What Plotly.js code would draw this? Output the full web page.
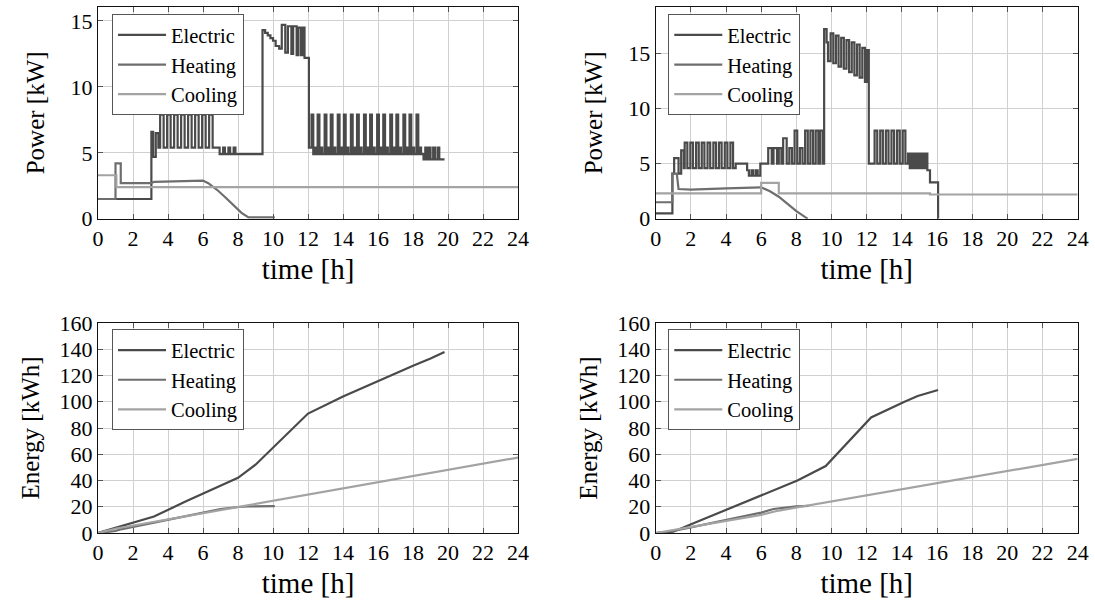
<!DOCTYPE html>
<html>
<head>
<meta charset="utf-8">
<script src="https://cdn.plot.ly/plotly-3.0.1.min.js"></script>
<style>html,body{margin:0;padding:0;background:#fff;}#chart{width:1095px;height:612px;}</style>
</head>
<body>
<div id="chart"></div>
<script>
// ---------- Scenario 1 (left) : power [kW] ----------
const s1ElecT = [0, 3.05, 3.15, 3.3, 3.45,
  3.55, 3.75, 3.95, 4.15, 4.35, 4.55, 4.75, 4.95, 5.15, 5.35, 5.55, 5.75, 5.95, 6.15, 6.35, 6.55,
  6.95, 7.15, 7.25, 7.45, 7.55, 7.75, 7.85,
  9.4, 9.55, 9.7, 9.85, 10.0, 10.15, 10.35, 10.5, 10.7, 10.85, 11.05, 11.15, 11.35, 11.45, 11.6, 11.7, 11.8,
  12.05,
  12.2, 12.3, 12.38, 12.46, 12.55, 12.65, 12.73, 12.81, 12.95, 13.05, 13.13, 13.21,
  13.3, 13.4, 13.48, 13.56, 13.7, 13.8, 13.88, 13.96, 14.05, 14.15, 14.23, 14.31,
  14.45, 14.55, 14.63, 14.71, 14.8, 14.9, 14.98, 15.06, 15.2, 15.3, 15.38, 15.46,
  15.55, 15.65, 15.73, 15.81, 15.95, 16.05, 16.13, 16.21, 16.3, 16.4, 16.48, 16.56,
  16.7, 16.8, 16.88, 16.96, 17.05, 17.15, 17.23, 17.31, 17.45, 17.55, 17.63, 17.71,
  17.8, 17.9, 17.98, 18.06, 18.2, 18.3, 18.38, 18.46,
  18.6, 18.7, 18.8, 18.9, 19.0, 19.15, 19.25, 19.4, 19.5, 19.8];
const s1ElecP = [1.5, 6.6, 4.7, 6.5, 5.4,
  7.9, 5.4, 7.9, 5.4, 7.9, 5.4, 7.9, 5.4, 7.9, 5.4, 7.9, 5.4, 7.9, 5.4, 7.9, 5.4,
  4.9, 5.4, 4.9, 5.4, 4.9, 5.4, 4.9,
  14.3, 14.1, 13.9, 13.7, 13.5, 13.1, 12.9, 14.7, 12.6, 14.6, 12.5, 14.6, 12.4, 14.5, 12.4, 14.5, 12.2,
  5.4,
  7.9, 4.9, 5.4, 4.9, 7.9, 4.9, 5.4, 4.9, 7.9, 4.9, 5.4, 4.9,
  7.9, 4.9, 5.4, 4.9, 7.9, 4.9, 5.4, 4.9, 7.9, 4.9, 5.4, 4.9,
  7.9, 4.9, 5.4, 4.9, 7.9, 4.9, 5.4, 4.9, 7.9, 4.9, 5.4, 4.9,
  7.9, 4.9, 5.4, 4.9, 7.9, 4.9, 5.4, 4.9, 7.9, 4.9, 5.4, 4.9,
  7.9, 4.9, 5.4, 4.9, 7.9, 4.9, 5.4, 4.9, 7.9, 4.9, 5.4, 4.9,
  7.9, 4.9, 5.4, 4.9, 7.9, 4.9, 5.4, 4.9,
  4.5, 5.4, 4.5, 5.4, 4.5, 5.4, 4.5, 5.4, 4.5, 4.5];
const s1HeatT = [0, 1.0, 1.0, 1.3, 1.3, 3.0, 3.2, 4.5, 6.0, 6.3, 6.8, 7.3, 7.8, 8.2, 8.6, 10.1];
const s1HeatP = [1.5, 1.5, 4.2, 4.2, 2.7, 2.7, 2.8, 2.85, 2.9, 2.7, 2.2, 1.6, 0.95, 0.45, 0.1, 0.1];
const s1CoolT = [0, 1.05, 24];
const s1CoolP = [3.3, 2.4, 2.4];

// ---------- Scenario 2 (right) : power [kW] ----------
const s2ElecT = [0, 0.95, 1.05, 1.3, 1.45, 1.6,
  1.65, 1.8, 1.97, 2.12, 2.3, 2.45, 2.62, 2.77, 2.95, 3.1, 3.28, 3.43, 3.6, 3.75, 3.93, 4.08, 4.25, 4.4,
  4.55, 5.2, 5.3, 5.45, 5.55, 5.7, 5.8, 5.95,
  6.4, 6.6, 6.7, 6.9, 7.0, 7.15,
  7.25, 7.45, 7.6, 7.75, 7.9, 8.05, 8.2, 8.35, 8.5, 8.65, 8.8, 8.95, 9.1, 9.25, 9.35, 9.5,
  9.58, 9.72, 9.8, 9.95, 10.1, 10.25, 10.4, 10.55, 10.7, 10.85, 11.0, 11.15, 11.3, 11.45, 11.6, 11.75, 11.9, 12.0,
  12.12, 12.45, 12.6, 12.77, 12.92, 13.09, 13.24, 13.41, 13.56, 13.73, 13.88, 14.05, 14.2,
  14.35, 14.45, 14.55, 14.65, 14.75, 14.85, 14.95, 15.05, 15.15, 15.25, 15.35, 15.45, 15.6, 16.06];
const s2ElecP = [0.5, 4.1, 5.5, 4.1, 6.2, 4.6,
  6.9, 4.6, 6.9, 4.6, 6.9, 4.6, 6.9, 4.6, 6.9, 4.6, 6.9, 4.6, 6.9, 4.6, 6.9, 4.6, 6.9, 4.6,
  5.0, 4.4, 3.9, 4.4, 3.9, 4.4, 3.9, 5.0,
  6.4, 5.0, 6.4, 5.0, 6.4, 5.0,
  7.3, 5.0, 6.4, 5.0, 8.0, 5.0, 6.4, 5.0, 8.0, 5.0, 8.0, 5.0, 8.0, 5.0, 8.0, 5.0,
  17.2, 16.0, 14.3, 16.8, 14.1, 16.6, 13.8, 16.4, 13.6, 16.2, 13.3, 16.0, 13.0, 15.8, 12.8, 15.5, 12.4, 15.3,
  5.0, 8.0, 5.0, 8.0, 5.0, 8.0, 5.0, 8.0, 5.0, 8.0, 5.0, 8.0, 5.0,
  5.9, 4.6, 5.9, 4.6, 5.9, 4.6, 5.9, 4.6, 5.9, 4.6, 5.9, 4.4, 3.3, 0];
const s2HeatT = [0, 0.95, 0.95, 1.2, 1.3, 2.0, 4.0, 6.0, 6.5, 7.0, 7.5, 8.0, 8.65];
const s2HeatP = [1.5, 1.5, 4.1, 4.1, 2.7, 2.65, 2.75, 2.85, 2.5, 2.0, 1.35, 0.7, 0.0];
const s2CoolT = [0, 6.0, 7.0, 15.6, 24];
const s2CoolP = [2.3, 3.25, 2.3, 2.2, 2.2];

// ---------- Scenario 1 (left) : energy [kWh] ----------
const e1ElecT = [0, 1, 3.2, 5, 8, 9, 10, 11, 12, 14, 16, 18, 19, 19.8];
const e1ElecE = [0, 4, 12.5, 24, 42, 52, 65, 78, 91, 104, 116, 127.5, 133, 138];
const e1HeatT = [0, 1, 1.3, 3, 6, 7, 8, 8.6, 10.1];
const e1HeatE = [0, 1.5, 2.8, 7.4, 15.7, 18.2, 19.8, 20.2, 20.5];
const e1CoolT = [0, 1.05, 24];
const e1CoolE = [0, 3.4, 57.5];

// ---------- Scenario 2 (right) : energy [kWh] ----------
const e2ElecT = [0, 1, 2.15, 4.06, 6.06, 8.06, 9.67, 12.25, 14.15, 14.9, 16.06];
const e2ElecE = [0, 1, 7.4, 18, 29.5, 40, 51, 88, 100, 104.4, 109];
const e2HeatT = [0, 1, 2, 4, 6, 6.7, 8, 8.7];
const e2HeatE = [0, 1.5, 4.3, 9.8, 15.5, 18.3, 20.3, 20.6];
const e2CoolT = [0, 6, 7, 15.6, 24];
const e2CoolE = [0, 13.8, 17.1, 36.8, 56.5];

const seriesNames = ['Electric', 'Heating', 'Cooling'];
const timeTicks = [0, 2, 4, 6, 8, 10, 12, 14, 16, 18, 20, 22, 24];
const powerTicks = [0, 5, 10, 15];
const energyTicks = [0, 20, 40, 60, 80, 100, 120, 140, 160];

const colElec = '#4a4a4a', colHeat = '#6e6e6e', colCool = '#a3a3a3';
const LW = 2.2;
const FONT = '"Liberation Serif", "DejaVu Serif", serif';

function tr(x, y, name, color, shape, xa, ya, lg) {
  return {x: x, y: y, name: name, type: 'scatter', mode: 'lines',
    line: {color: color, width: LW, shape: shape},
    xaxis: xa, yaxis: ya, legend: lg, showlegend: true, hoverinfo: 'skip'};
}

const data = [
  tr(s1ElecT, s1ElecP, seriesNames[0], colElec, 'hv', 'x', 'y', 'legend'),
  tr(s1HeatT, s1HeatP, seriesNames[1], colHeat, 'linear', 'x', 'y', 'legend'),
  tr(s1CoolT, s1CoolP, seriesNames[2], colCool, 'hv', 'x', 'y', 'legend'),
  tr(s2ElecT, s2ElecP, seriesNames[0], colElec, 'hv', 'x2', 'y2', 'legend2'),
  tr(s2HeatT, s2HeatP, seriesNames[1], colHeat, 'linear', 'x2', 'y2', 'legend2'),
  tr(s2CoolT, s2CoolP, seriesNames[2], colCool, 'hv', 'x2', 'y2', 'legend2'),
  tr(e1ElecT, e1ElecE, seriesNames[0], colElec, 'linear', 'x3', 'y3', 'legend3'),
  tr(e1HeatT, e1HeatE, seriesNames[1], colHeat, 'linear', 'x3', 'y3', 'legend3'),
  tr(e1CoolT, e1CoolE, seriesNames[2], colCool, 'linear', 'x3', 'y3', 'legend3'),
  tr(e2ElecT, e2ElecE, seriesNames[0], colElec, 'linear', 'x4', 'y4', 'legend4'),
  tr(e2HeatT, e2HeatE, seriesNames[1], colHeat, 'linear', 'x4', 'y4', 'legend4'),
  tr(e2CoolT, e2CoolE, seriesNames[2], colCool, 'linear', 'x4', 'y4', 'legend4')
];

function xax(domain, anchor) {
  return {domain: domain, anchor: anchor, range: [0, 24], tickvals: timeTicks,
    showgrid: true, gridcolor: '#d0d0d0', gridwidth: 1, zeroline: false,
    showline: true, linecolor: '#111', linewidth: 1, mirror: 'ticks',
    ticks: 'inside', ticklen: 5, tickcolor: '#555', tickwidth: 1,
    tickfont: {family: FONT, size: 22, color: '#000'},
    automargin: false,
    title: {text: 'time [h]', font: {family: FONT, size: 29, color: '#000'}, standoff: 8}};
}
function yax(domain, anchor, range, ticks, label, so) {
  return {domain: domain, anchor: anchor, range: range, tickvals: ticks,
    showgrid: true, gridcolor: '#d0d0d0', gridwidth: 1, zeroline: false,
    showline: true, linecolor: '#111', linewidth: 1, mirror: 'ticks',
    ticks: 'inside', ticklen: 5, tickcolor: '#555', tickwidth: 1,
    tickfont: {family: FONT, size: 22, color: '#000'},
    automargin: false,
    title: {text: label, font: {family: FONT, size: 25, color: '#000'}, standoff: so}};
}
function leg(x, y) {
  return {x: x, y: y, xanchor: 'left', yanchor: 'top', bgcolor: '#fff',
    bordercolor: '#555', borderwidth: 1, font: {family: FONT, size: 20.5, color: '#000'},
    tracegroupgap: 0, itemclick: false, itemwidth: 48};
}

const xL = [0.0895, 0.4731], xR = [0.5988, 0.9842];
const yT = [0.6425, 0.9886], yB = [0.1291, 0.4722];

const layout = {
  width: 1095, height: 612,
  margin: {l: 0, r: 0, t: 0, b: 0},
  paper_bgcolor: '#fff', plot_bgcolor: '#fff',
  font: {family: FONT, color: '#000'},
  xaxis: xax(xL, 'y'), yaxis: yax(yT, 'x', [0, 16.06], powerTicks, 'Power [kW]', 18),
  xaxis2: xax(xR, 'y2'), yaxis2: yax(yT, 'x2', [0, 19.2], powerTicks, 'Power [kW]', 18),
  xaxis3: xax(xL, 'y3'), yaxis3: yax(yB, 'x3', [0, 160], energyTicks, 'Energy [kWh]', 12),
  xaxis4: xax(xR, 'y4'), yaxis4: yax(yB, 'x4', [0, 160], energyTicks, 'Energy [kWh]', 12),
  legend: leg(0.1023, 0.977),
  legend2: leg(0.6103, 0.977),
  legend3: leg(0.1023, 0.462),
  legend4: leg(0.6103, 0.462),
  showlegend: true
};

Plotly.newPlot('chart', data, layout, {staticPlot: true, displayModeBar: false});
</script>
</body>
</html>
